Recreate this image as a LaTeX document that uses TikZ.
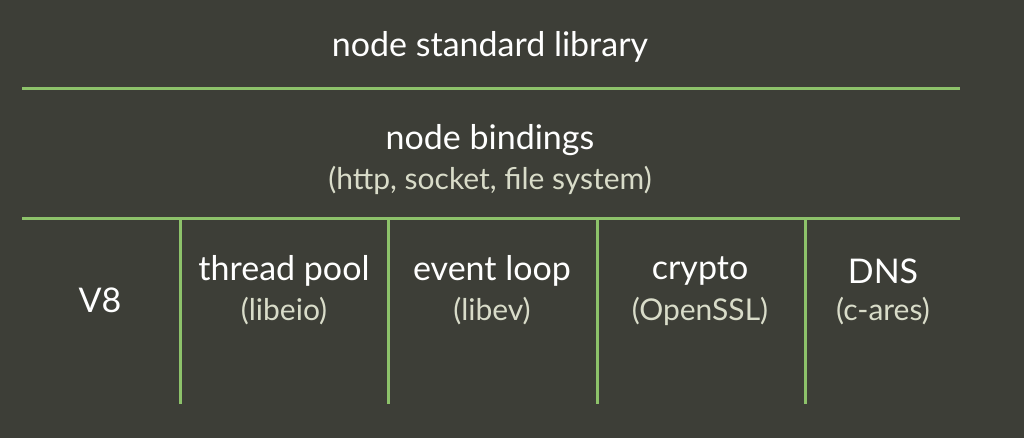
\documentclass[tikz,border=0pt]{standalone}
\usepackage{fontspec}
\setmainfont{Lato}
\usetikzlibrary{positioning}
\definecolor{Slate}{HTML}{3D3E37}
\definecolor{Leaf}{HTML}{8DC26A}
\definecolor{Paper}{HTML}{D9DCC9}

\begin{document}
\begin{tikzpicture}[x=1pt,y=-1pt,
  title/.style={anchor=center,inner sep=0pt,text=white,font=\fontsize{34}{40}\selectfont},
  sub/.style={anchor=center,inner sep=0pt,text=Paper,font=\fontsize{30}{36}\selectfont},
  rule/.style={draw=Leaf,line width=3pt}
]
  \path[use as bounding box,fill=Slate] (0,0) rectangle (1024,438);

  \node[title] (stdlib) at (490,47) {node standard library};
  \draw[rule] (22,89) -- (960,89);

  \node[title] (bind) at (490,140) {node bindings};
  \node[sub] (bindsub) at (490,180) {(http, socket, file system)};
  \draw[rule] (22,219) -- (960,219);

  \draw[rule] (180,219) -- (180,404);
  \draw[rule] (388,219) -- (388,404);
  \draw[rule] (597,219) -- (597,404);
  \draw[rule] (805,219) -- (805,404);

  \node[title] (v8) at (100,300) {V8};

  \node[title] (pool) at (284,271) {thread pool};
  \node[sub] (poolsub) at (284,311) {(libeio)};

  \node[title] (loop) at (492,271) {event loop};
  \node[sub] (loopsub) at (492,311) {(libev)};

  \node[title] (crypto) at (700,271) {crypto};
  \node[sub] (cryptosub) at (700,311) {(OpenSSL)};

  \node[title] (dns) at (883,271) {DNS};
  \node[sub] (dnssub) at (883,311) {(c-ares)};
\end{tikzpicture}
\end{document}
